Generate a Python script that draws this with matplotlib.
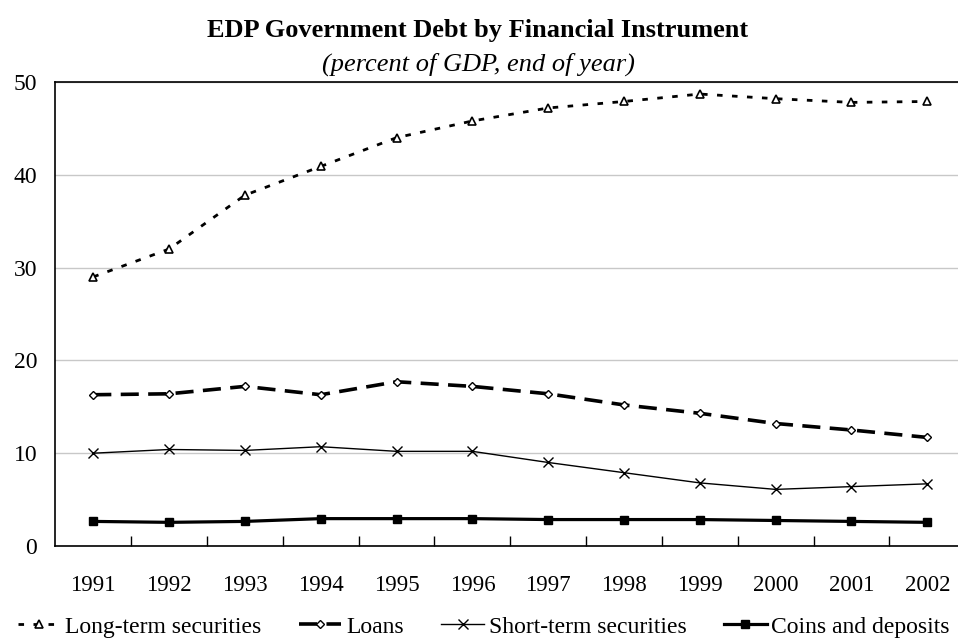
import matplotlib
matplotlib.use('Agg')
import matplotlib.pyplot as plt
import numpy as np

# ── Series (percent of GDP, end of year) ────────────────────────────────────
years = ["1991", "1992", "1993", "1994", "1995", "1996",
         "1997", "1998", "1999", "2000", "2001", "2002"]
long_term  = [29.0, 32.0, 37.8, 40.9, 44.0, 45.8, 47.2, 47.9, 48.7, 48.2, 47.8, 47.9]
loans      = [16.3, 16.4, 17.2, 16.3, 17.7, 17.2, 16.4, 15.2, 14.3, 13.2, 12.5, 11.7]
short_term = [10.0, 10.4, 10.3, 10.7, 10.2, 10.2, 9.0, 7.9, 6.8, 6.1, 6.4, 6.7]
coins      = [2.65, 2.55, 2.65, 2.95, 2.95, 2.95, 2.85, 2.85, 2.85, 2.75, 2.65, 2.55]

plt.rcParams['font.family'] = ['Liberation Serif', 'DejaVu Serif']

fig = plt.figure(figsize=(9.58, 6.41), dpi=100)
ax = fig.add_axes([0.0578, 0.1482, 0.9497, 0.7239])

x = np.arange(len(years))

ax.plot(x, long_term, color='black', lw=2.0, linestyle=(0, (2.0, 3.4)),
        marker='^', markersize=5.5, markerfacecolor='white',
        markeredgecolor='black', markeredgewidth=1.2,
        label='Long-term securities', zorder=4)
ax.plot(x, loans, color='black', lw=2.6, linestyle=(0, (5.0, 2.6)),
        marker='D', markersize=4.2, markerfacecolor='white',
        markeredgecolor='black', markeredgewidth=1.0,
        label='Loans', zorder=4)
ax.plot(x, short_term, color='black', lw=1.0, linestyle='-',
        marker='x', markersize=7, markeredgewidth=1.0,
        label='Short-term securities', zorder=4)
ax.plot(x, coins, color='black', lw=2.3, linestyle='-',
        marker='s', markersize=5.5,
        label='Coins and deposits', zorder=4)

ax.set_xlim(-0.5, len(years) - 0.5)
ax.set_ylim(0, 50)

# category axis: ticks between years, labels centred on the years
ax.set_xticks(np.arange(0.5, len(years) - 0.5, 1.0))
ax.set_xticklabels([])
ax.set_xticks(x, minor=True)
ax.set_xticklabels(years, minor=True, fontsize=16.5)
ax.tick_params(axis='x', which='major', direction='in', length=7, width=1.0)
ax.tick_params(axis='x', which='minor', length=0, pad=21)

ax.set_yticks(np.arange(0, 51, 10))
ax.tick_params(axis='y', length=0, pad=13, labelsize=17)

ax.grid(axis='y', color='#c8c8c8', lw=1.0, zorder=0)
ax.set_axisbelow(True)

for side in ['left', 'bottom', 'top']:
    ax.spines[side].set_color('black')
    ax.spines[side].set_linewidth(1.2)
ax.spines['right'].set_visible(False)

fig.text(0.499, 0.953, "EDP Government Debt by Financial Instrument",
         ha='center', va='center', fontsize=19, fontweight='bold')
fig.text(0.499, 0.900, "(percent of GDP, end of year)",
         ha='center', va='center', fontsize=19, style='italic')

fig.legend(loc='center', bbox_to_anchor=(0.505, 0.022), ncol=4,
           frameon=False, fontsize=17, handlelength=1.8,
           handletextpad=0.2, columnspacing=1.6, borderaxespad=0,
           borderpad=0)

fig.savefig('out.png', dpi=100)
